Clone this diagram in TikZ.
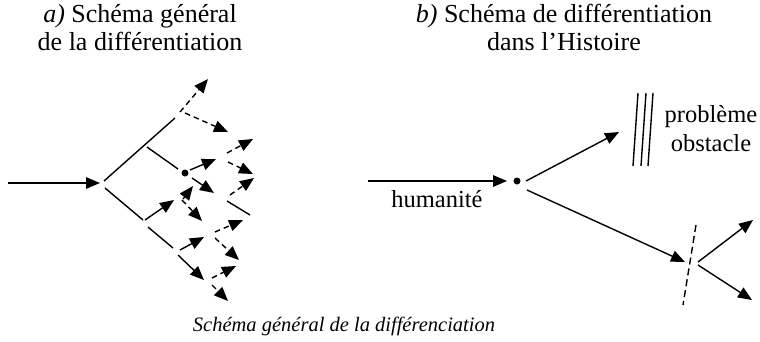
\documentclass[tikz,border=0pt]{standalone}
\usepackage{fontspec}
\setmainfont{Liberation Serif}
\usetikzlibrary{arrows.meta}
\begin{document}
\begin{tikzpicture}[x=1pt,y=-1pt,
  ln/.style={line width=1.4pt},
  arr/.style={ln,-{Triangle[length=14pt,width=11.5pt]}},
  darr/.style={arr,dash pattern=on 5.5pt off 4pt},
  ttl/.style={font=\fontsize{26}{30}\selectfont,anchor=base,inner sep=0pt},
  lbl/.style={font=\fontsize{24.5}{28}\selectfont,anchor=base,inner sep=0pt},
  captxt/.style={font=\fontsize{20.5}{24}\selectfont\itshape,anchor=base,inner sep=0pt},
  dotn/.style={circle,fill,inner sep=0pt,minimum size=7pt}]
\useasboundingbox (0,0) rectangle (760,341);
% titles
\node[ttl] (ta1) at (140,22) {\textit{a)} Schéma général};
\node[ttl] (ta2) at (140,50) {de la différentiation};
\node[ttl] (tb1) at (564,22) {\textit{b)} Schéma de différentiation};
\node[ttl] (tb2) at (564,50) {dans l’Histoire};
\node[captxt] (captn) at (344,331) {Schéma général de la différenciation};
% ---------- left tree ----------
\coordinate (i0) at (8,183); \coordinate (i1) at (100,183);
\draw[arr] (i0) -- (i1);
\coordinate (u0) at (104,181); \coordinate (u1) at (175,118);
\draw[ln] (u0) -- (u1);
\coordinate (d1s) at (180,112); \coordinate (d1e) at (208,79);
\coordinate (d2s) at (185,113); \coordinate (d2e) at (228,132);
\draw[darr] (d1s) -- (d1e);
\draw[darr] (d2s) -- (d2e);
\coordinate (s0) at (147,147); \coordinate (s1) at (178,169);
\draw[ln] (s0) -- (s1);
\node[dotn] (dot1) at (185,173) {};
\coordinate (a1s) at (190,170); \coordinate (a1e) at (216,159);
\coordinate (a2s) at (192,178); \coordinate (a2e) at (214,193);
\draw[arr] (a1s) -- (a1e);
\draw[arr] (a2s) -- (a2e);
\coordinate (d3s) at (227,153); \coordinate (d3e) at (253,139);
\coordinate (d4s) at (228,162); \coordinate (d4e) at (253,174);
\coordinate (d5s) at (230,195); \coordinate (d5e) at (254,178);
\draw[darr] (d3s) -- (d3e);
\draw[darr] (d4s) -- (d4e);
\draw[darr] (d5s) -- (d5e);
\coordinate (t0) at (227,201); \coordinate (t1) at (250,215);
\draw[ln] (t0) -- (t1);
\coordinate (l0) at (105,188); \coordinate (l1) at (143,220);
\draw[ln] (l0) -- (l1);
\coordinate (b1s) at (145,220); \coordinate (b1e) at (174,200);
\draw[arr] (b1s) -- (b1e);
\coordinate (d6s) at (183,199); \coordinate (d6e) at (193,186);
\coordinate (d7s) at (182,200); \coordinate (d7e) at (202,221);
\draw[darr] (d6s) -- (d6e);
\draw[darr] (d7s) -- (d7e);
\coordinate (m0) at (148,227); \coordinate (m1) at (173,248);
\draw[ln] (m0) -- (m1);
\coordinate (b2s) at (180,250); \coordinate (b2e) at (204,237);
\coordinate (b3s) at (178,255); \coordinate (b3e) at (204,280);
\draw[arr] (b2s) -- (b2e);
\draw[arr] (b3s) -- (b3e);
\coordinate (d8s) at (215,232); \coordinate (d8e) at (243,220);
\coordinate (d9s) at (215,238); \coordinate (d9e) at (239,260);
\coordinate (d10s) at (212,278); \coordinate (d10e) at (236,266);
\coordinate (d11s) at (212,285); \coordinate (d11e) at (228,301);
\draw[darr] (d8s) -- (d8e);
\draw[darr] (d9s) -- (d9e);
\draw[darr] (d10s) -- (d10e);
\draw[darr] (d11s) -- (d11e);
% ---------- right diagram ----------
\coordinate (h0) at (368,181); \coordinate (h1) at (507,181);
\draw[arr] (h0) -- (h1);
\node[lbl] (hum) at (437,207) {humanité};
\node[dotn] (dot2) at (517,181) {};
\coordinate (r1s) at (526,181); \coordinate (r1e) at (619,132);
\draw[arr] (r1s) -- (r1e);
\coordinate (p1a) at (633,166); \coordinate (p1b) at (638,93);
\coordinate (p2a) at (641,166); \coordinate (p2b) at (646,93);
\coordinate (p3a) at (648,166); \coordinate (p3b) at (653,93);
\draw[ln] (p1a) -- (p1b);
\draw[ln] (p2a) -- (p2b);
\draw[ln] (p3a) -- (p3b);
\node[lbl] (prob) at (711,122) {problème};
\node[lbl] (obst) at (711,151) {obstacle};
\coordinate (r2s) at (527,190); \coordinate (r2e) at (685,262);
\draw[arr] (r2s) -- (r2e);
\coordinate (q0) at (696,225); \coordinate (q1) at (683,305);
\draw[ln,dash pattern=on 7pt off 4pt] (q0) -- (q1);
\coordinate (f0) at (698,262); \coordinate (f1) at (753,220);
\coordinate (g0) at (698,265); \coordinate (g1) at (752,300);
\draw[arr] (f0) -- (f1);
\draw[arr] (g0) -- (g1);
\end{tikzpicture}
\end{document}
